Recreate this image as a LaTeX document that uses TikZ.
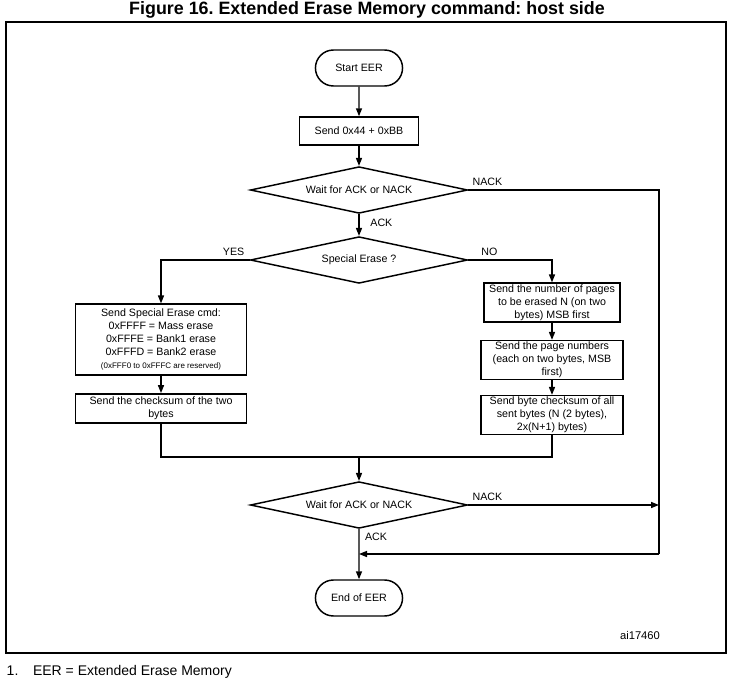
\documentclass[tikz,border=0pt]{standalone}
\usepackage{fontspec}
\setmainfont{Liberation Sans}
\frenchspacing
\usetikzlibrary{arrows.meta}
\usetikzlibrary{shapes.geometric}
\usetikzlibrary{shapes.misc}
\tikzset{
	every path/.style={line width=1.1pt},
	txt/.style={
		font=\fontsize{8}{9.8}\selectfont,
		align=center,
	},
	term/.style={
		txt,
		draw,
		rounded rectangle,
		minimum width=72pt,
		minimum height=27pt,
	},
	proc/.style={
		txt,
		draw,
		rectangle,
		inner sep=1pt,
	},
	decision/.style={
		txt,
		draw,
		diamond,
		aspect=4.5,
		inner sep=0pt,
		minimum width=163pt,
		minimum height=35pt,
	},
	flow/.style={
		-{Triangle[length=6pt,width=4.5pt]}
	},
	lbl/.style={
		txt,
		inner sep=0pt,
	},
}

\begin{document}
\begin{tikzpicture}[x=0.75pt,y=-0.75pt]
		\useasboundingbox (0,0) rectangle (733,682);

		\node[font=\bfseries\fontsize{13.4}{16}\selectfont] (title) at (367,10) {Figure 16. Extended Erase Memory command: host side};
		\draw[line width=1pt] (6,22) rectangle (726,653);

		\node[term] (start) at (359,68) {Start EER};
		\node[proc,minimum width=89pt,minimum height=21pt] (send) at (359,131) {Send 0x44 + 0xBB};
		\node[decision] (wait1) at (359,190) {Wait for ACK or NACK};
		\node[decision] (special) at (359,260) {Special Erase ?};

		\node[proc,minimum width=128pt,minimum height=53pt] (secmd) at (161,339.5) {Send Special Erase cmd:\\0xFFFF = Mass erase\\0xFFFE = Bank1 erase\\0xFFFD = Bank2 erase\\{\fontsize{6}{7}\selectfont (0xFFF0 to 0xFFFC are reserved)}};
		\node[proc,minimum width=128pt,minimum height=22pt] (chksum) at (161,408.5) {Send the checksum of the two\\bytes};

		\node[proc,minimum width=102pt,minimum height=29pt] (npages) at (552,302.5) {Send the number of pages\\to be erased N (on two\\bytes) MSB first};
		\node[proc,minimum width=106.5pt,minimum height=27pt] (pnums) at (552,360) {Send the page numbers\\(each on two bytes, MSB\\first)};
		\node[proc,minimum width=106.5pt,minimum height=28.5pt] (bytechk) at (552,415) {Send byte checksum of all\\sent bytes (N (2 bytes),\\2x(N+1) bytes)};

		\node[decision] (wait2) at (359,505) {Wait for ACK or NACK};
		\node[term] (end) at (359,598) {End of EER};

		\node[lbl] at (376,537) {ACK};
		\node[lbl,font=\fontsize{8.4}{10}\selectfont] at (640,635) {ai17460};
		\node[anchor=west,inner sep=0pt,font=\fontsize{10.5}{12}\selectfont] (note) at (6,672) {1.\hspace{11pt}EER = Extended Erase Memory};

		\coordinate (rt) at (659,554);
		\coordinate (ret) at (359,554);
		\coordinate (merge) at (359,457);

		\draw[flow] (start) -- (send);
		\draw[flow] (send) -- (wait1);
		\draw[flow] (wait1) -- node[lbl,right=8pt,pos=0.4] {ACK} (special);
		\draw (wait1.east) -- node[lbl,above=3pt,pos=0.1] {NACK} (wait1.east -| rt) -- (rt);
		\draw[flow] (rt) -- (ret);

		\draw[flow] (special.west) -- node[lbl,above=3pt,pos=0.18] {YES} (special.west -| secmd.north) -- (secmd.north);
		\draw[flow] (special.east) -- node[lbl,above=3pt,pos=0.25] {NO} (special.east -| npages.north) -- (npages.north);

		\draw[flow] (secmd) -- (chksum);
		\draw[flow] (npages) -- (pnums);
		\draw[flow] (pnums) -- (bytechk);

		\draw (chksum.south) |- (merge);
		\draw (bytechk.south) |- (merge);
		\draw[flow] (merge) -- (wait2);

		\draw[flow] (wait2.east) -- node[lbl,above=3pt,pos=0.1] {NACK} (wait2.east -| rt);
		\draw[flow] (wait2) -- (end);
	\end{tikzpicture}
\end{document}
